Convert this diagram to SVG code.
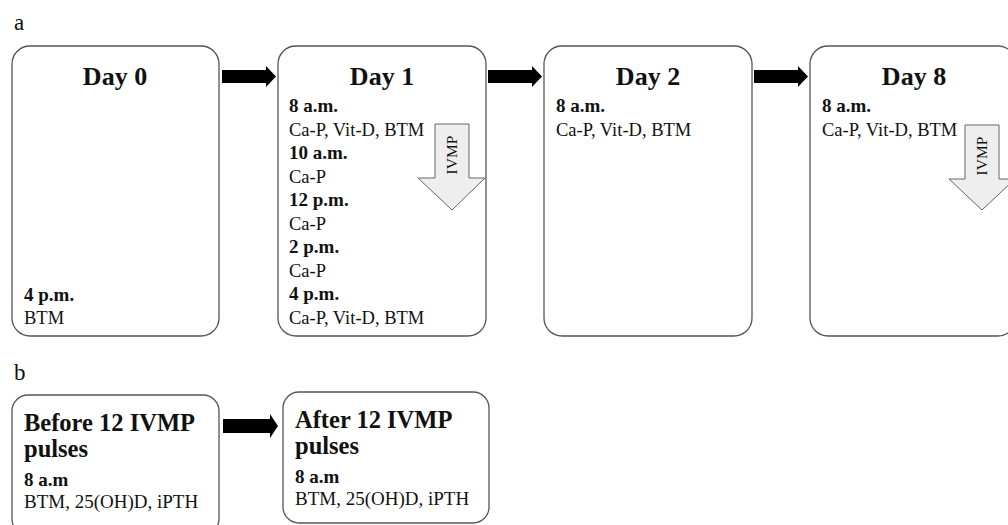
<svg xmlns="http://www.w3.org/2000/svg" width="1008" height="525" viewBox="0 0 1008 525">
<style>
.box{fill:#fff;stroke:#555;stroke-width:1.3}
.t{font-family:"Liberation Serif","Times New Roman",serif;fill:#111}
.day{font-size:26px;font-weight:bold;text-anchor:middle}
.tm{font-size:19px;font-weight:bold}
.v{font-size:18.5px}
.hb{font-size:24.5px;font-weight:bold}
.vb{font-size:19px}
.lbl{font-size:23px}
.blk{fill:#000}
.iv{fill:#eeeeee;stroke:#666;stroke-width:1}
.ivt{font-size:15.5px;font-family:"Liberation Serif","Times New Roman",serif;fill:#111;text-anchor:middle}
</style>
<text class="t lbl" x="14" y="30">a</text>
<text class="t lbl" x="14" y="380">b</text>
<g id="day0">
<rect class="box" x="12" y="46" width="207" height="290" rx="18"/>
<text class="t day" x="115" y="85">Day 0</text>
<text class="t tm" x="24" y="301">4 p.m.</text>
<text class="t v" x="24" y="324">BTM</text>
</g>
<g id="day1">
<rect class="box" x="278" y="46" width="208" height="290" rx="18"/>
<text class="t day" x="382" y="85">Day 1</text>
<text class="t tm" x="289" y="112">8 a.m.</text>
<text class="t v" x="289" y="135.5">Ca-P, Vit-D, BTM</text>
<text class="t tm" x="289" y="159">10 a.m.</text>
<text class="t v" x="289" y="182.5">Ca-P</text>
<text class="t tm" x="289" y="206">12 p.m.</text>
<text class="t v" x="289" y="229.5">Ca-P</text>
<text class="t tm" x="289" y="253">2 p.m.</text>
<text class="t v" x="289" y="276.5">Ca-P</text>
<text class="t tm" x="289" y="300">4 p.m.</text>
<text class="t v" x="289" y="323.5">Ca-P, Vit-D, BTM</text>
</g>
<g id="ivmp1">
<polygon class="iv" points="435,124 469,124 469,178 485,178 452,210 418,178 435,178"/>
<text class="ivt" transform="translate(457,155) rotate(-90)">IVMP</text>
</g>
<g id="day2">
<rect class="box" x="544" y="46" width="208" height="290" rx="18"/>
<text class="t day" x="648" y="85">Day 2</text>
<text class="t tm" x="556" y="112">8 a.m.</text>
<text class="t v" x="556" y="135.5">Ca-P, Vit-D, BTM</text>
</g>
<g id="day8">
<rect class="box" x="810" y="46" width="206" height="290" rx="18"/>
<text class="t day" x="914" y="85">Day 8</text>
<text class="t tm" x="822" y="112">8 a.m.</text>
<text class="t v" x="822" y="135.5">Ca-P, Vit-D, BTM</text>
</g>
<g id="ivmp8">
<polygon class="iv" points="965,125 999,125 999,179 1015,179 982,210 949,179 965,179"/>
<text class="ivt" transform="translate(987,156) rotate(-90)">IVMP</text>
</g>
<g id="before">
<rect class="box" x="12" y="395" width="207" height="140" rx="16"/>
<text class="t hb" x="24" y="431">Before 12 IVMP</text>
<text class="t hb" x="24" y="457">pulses</text>
<text class="t tm" x="24" y="486">8 a.m</text>
<text class="t vb" x="24" y="508">BTM, 25(OH)D, iPTH</text>
</g>
<g id="after">
<rect class="box" x="283" y="392" width="206" height="131" rx="16"/>
<text class="t hb" x="295" y="428">After 12 IVMP</text>
<text class="t hb" x="295" y="454">pulses</text>
<text class="t tm" x="295" y="483">8 a.m</text>
<text class="t vb" x="295" y="505">BTM, 25(OH)D, iPTH</text>
</g>
<g id="connectors">
<polygon class="blk" points="222,70 266,70 266,66 276,76.5 266,87 266,83 222,83"/>
<polygon class="blk" points="488,70 532,70 532,66 542,76.5 532,87 532,83 488,83"/>
<polygon class="blk" points="754,70 798,70 798,66 808,76.5 798,87 798,83 754,83"/>
<polygon class="blk" points="223,419 270,419 270,414 278,426 270,438 270,433 223,433"/>
</g>
</svg>
